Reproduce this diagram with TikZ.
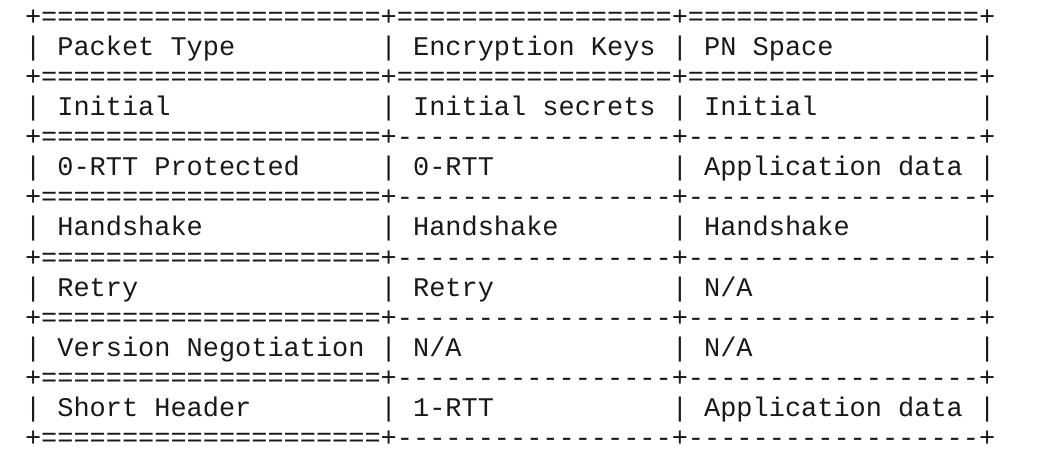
\documentclass[tikz,border=0pt]{standalone}
\usepackage{fontspec}
\setmonofont{Liberation Mono}
\newcommand\cw{16.17}
\newcommand\eqA{=====================}
\newcommand\eqB{=================}
\newcommand\eqC{==================}
\newcommand\dsB{-----------------}
\newcommand\dsC{------------------}
\newcommand\sepline[3]{\node[txt] (s#1) at (25pt,{-(26+30*#1)*1pt}) {+\eqA+#2+#3+};}
\newcommand\tabrow[4]{%
  \foreach \i/\n in {0/a,22/b,40/c,59/d}{\node[txt] (r#1\n) at ({(25+\cw*\i)*1pt},{-(26+30*#1)*1pt}) {|};}
  \node[txt] (t#1a) at ({(25+\cw*2)*1pt},{-(26+30*#1)*1pt}) {#2};
  \node[txt] (t#1b) at ({(25+\cw*24)*1pt},{-(26+30*#1)*1pt}) {#3};
  \node[txt] (t#1c) at ({(25+\cw*42)*1pt},{-(26+30*#1)*1pt}) {#4};}
\begin{document}
\begin{tikzpicture}[x=1pt,y=1pt,
  txt/.style={anchor=base west,inner sep=0pt,outer sep=0pt,font=\ttfamily\fontsize{26.95}{30}\selectfont,text=black!90}]
\useasboundingbox (0,0) rectangle (1064,-462);
\sepline{0}{\eqB}{\eqC}
\tabrow{1}{Packet Type}{Encryption Keys}{PN Space}
\sepline{2}{\eqB}{\eqC}
\tabrow{3}{Initial}{Initial secrets}{Initial}
\sepline{4}{\dsB}{\dsC}
\tabrow{5}{0-RTT Protected}{0-RTT}{Application data}
\sepline{6}{\dsB}{\dsC}
\tabrow{7}{Handshake}{Handshake}{Handshake}
\sepline{8}{\dsB}{\dsC}
\tabrow{9}{Retry}{Retry}{N/A}
\sepline{10}{\dsB}{\dsC}
\tabrow{11}{Version Negotiation}{N/A}{N/A}
\sepline{12}{\dsB}{\dsC}
\tabrow{13}{Short Header}{1-RTT}{Application data}
\sepline{14}{\dsB}{\dsC}
\end{tikzpicture}
\end{document}
